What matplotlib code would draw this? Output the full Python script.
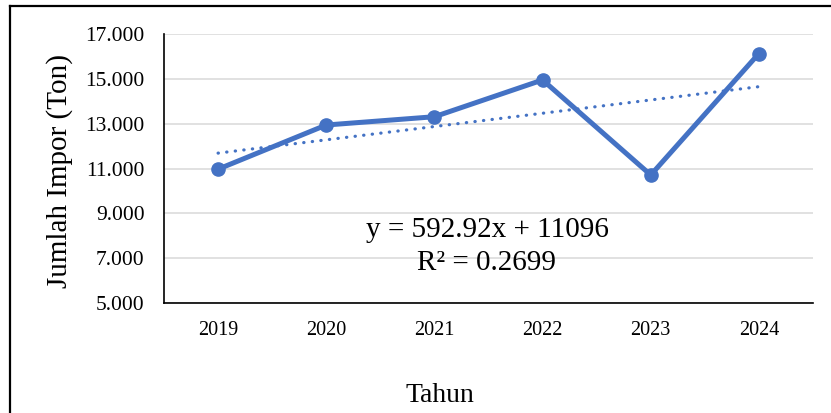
import matplotlib.pyplot as plt
import numpy as np
from matplotlib.lines import Line2D

plt.rcParams['font.family'] = ['Liberation Serif', 'DejaVu Serif']

# data
years = ['2019', '2020', '2021', '2022', '2023', '2024']
impor = [10970, 12940, 13310, 14950, 10710, 16130]
y_ticks = [5000, 7000, 9000, 11000, 13000, 15000, 17000]
y_tick_labels = ['5.000', '7.000', '9.000', '11.000', '13.000', '15.000', '17.000']
eq_text = 'y = 592.92x + 11096'
r2_text = 'R² = 0.2699'

blue = '#4472C4'

fig = plt.figure(figsize=(8.31, 4.13), dpi=100)
ax = fig.add_axes([164/831, 1-303/413, (813-164)/831, (303-34)/413])

x = np.arange(len(years))
ax.plot(x, impor, color=blue, lw=3.6, marker='o', ms=9.5, solid_joinstyle='round', zorder=3)

# linear trendline (Excel style, x = 1..n)
coef = np.polyfit(x + 1, impor, 1)
ax.plot(x, np.polyval(coef, x + 1), color=blue, lw=2.3, ls=(0, (0.1, 2.6)),
        dash_capstyle='round', zorder=2)

ax.set_xlim(-0.5, len(years) - 0.5)
ax.set_ylim(5000, 17000)
ax.set_xticks(x)
ax.set_xticklabels(years, fontsize=14.5)
ax.set_yticks(y_ticks)
ax.set_yticklabels(y_tick_labels, fontsize=15.5)
ax.tick_params(axis='both', length=0)
ax.tick_params(axis='y', pad=14)
ax.tick_params(axis='x', pad=13)
ax.grid(axis='y', color='#d9d9d9', lw=1.1)
ax.set_axisbelow(True)
for s in ['top', 'right']:
    ax.spines[s].set_visible(False)
for s in ['left', 'bottom']:
    ax.spines[s].set_color('black')
    ax.spines[s].set_linewidth(1.2)

fig.text(487/831, 1-230/413, eq_text, fontsize=21, ha='center', va='center')
fig.text(487/831, 1-263/413, r2_text, fontsize=21, ha='center', va='center')

fig.text(60/831, 1-171/413, 'Jumlah Impor (Ton)', fontsize=21, rotation=90,
         ha='center', va='center')
fig.text(440/831, 1-395/413, 'Tahun', fontsize=20, ha='center', va='center')

# outer border (left and top only visible)
fig.add_artist(Line2D([9.5/831, 9.5/831], [0, 1-6/413], color='black', lw=1.6,
                      transform=fig.transFigure))
fig.add_artist(Line2D([9.5/831, 1], [1-6/413, 1-6/413], color='black', lw=1.6,
                      transform=fig.transFigure))

plt.savefig('out.png', dpi=100)
